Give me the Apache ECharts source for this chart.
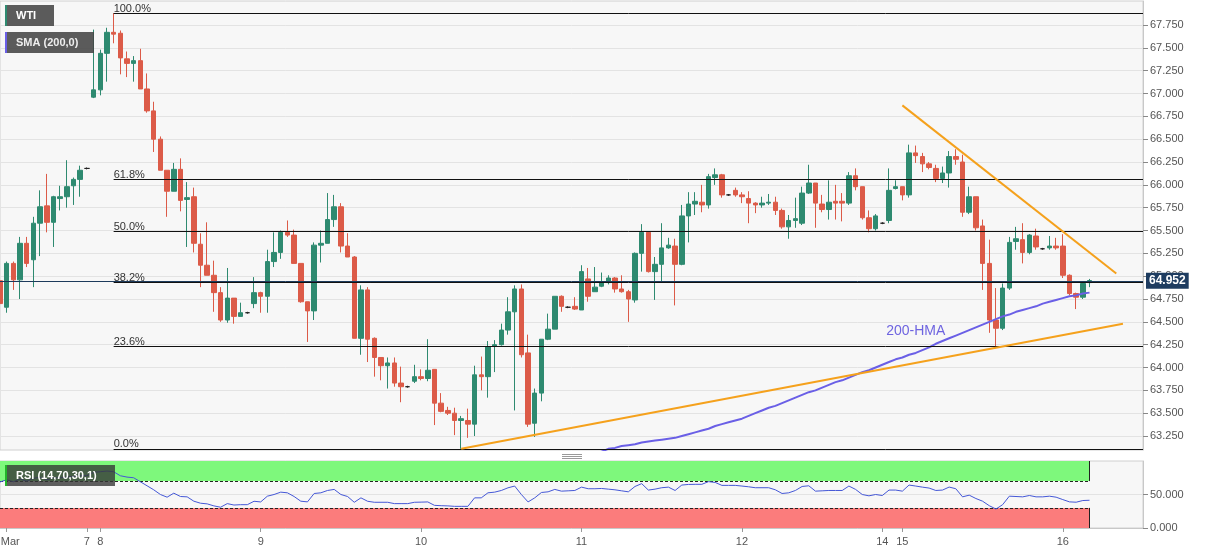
<!DOCTYPE html>
<html><head><meta charset="utf-8">
<script src="https://cdn.jsdelivr.net/npm/echarts@6/dist/echarts.min.js"></script>
<style>html,body{margin:0;padding:0;background:#fff}#c{width:1207px;height:555px}</style>
</head><body><div id="c"></div>
<script>
// ---- data (hourly WTI candles) ----
const opens = [64.95,64.66,65.14,64.96,65.36,65.18,65.58,65.77,65.59,65.85,65.87,65.99,66.06,66.18,66.96,67.04,67.44,67.67,67.66,67.38,
67.33,67.36,67.05,66.81,66.50,66.16,65.93,66.17,65.84,65.87,65.35,65.12,65.01,64.82,64.52,64.76,64.56,64.60,64.70,64.82,
64.78,65.16,65.26,65.48,65.45,65.14,64.72,64.62,65.34,65.36,65.62,65.76,65.33,65.21,64.32,64.85,64.32,64.11,64.02,64.05,
63.83,63.79,63.85,63.90,63.88,63.98,63.61,63.53,63.50,63.42,63.42,63.38,63.92,63.90,64.23,64.25,64.41,64.61,64.86,64.16,
63.39,63.72,64.31,64.42,64.78,64.66,64.67,64.63,64.97,64.83,64.89,64.93,64.98,64.86,64.83,64.74,65.25,65.48,65.05,65.13,
65.31,65.33,65.13,65.66,65.79,65.81,65.78,66.08,66.11,65.89,65.94,65.89,65.85,65.80,65.78,65.80,65.81,65.72,65.54,65.61,
65.58,65.91,66.02,65.79,65.73,65.82,65.82,65.80,66.10,65.98,65.64,65.52,65.58,65.61,65.96,65.98,65.89,66.35,66.31,66.23,
66.18,66.07,66.13,66.31,66.25,65.70,65.87,65.55,65.14,64.52,64.43,64.87,65.38,65.40,65.26,65.44,65.30,65.31,65.33,65.33,
65.01,64.81,64.77,64.93];
const closes = [64.70,65.14,64.96,65.36,65.14,65.58,65.76,65.59,65.87,65.87,65.98,66.06,66.16,66.18,67.04,67.44,67.67,67.65,67.39,67.33,
67.36,67.05,66.81,66.50,66.16,65.93,66.17,65.83,65.86,65.36,65.12,65.01,64.82,64.52,64.76,64.56,64.60,64.60,64.82,64.78,
65.16,65.26,65.48,65.45,65.14,64.72,64.62,65.34,65.36,65.62,65.76,65.33,65.21,64.32,64.85,64.31,64.11,64.02,64.05,63.83,
63.79,63.79,63.90,63.88,63.97,63.61,63.52,63.50,63.42,63.44,63.38,63.92,63.90,64.23,64.25,64.41,64.61,64.86,64.14,63.38,
63.72,64.31,64.42,64.78,64.67,64.66,64.64,65.05,64.78,64.88,64.93,64.98,64.86,64.83,64.75,65.25,65.48,65.05,65.13,65.31,
65.34,65.13,65.66,65.79,65.82,65.78,66.09,66.11,65.89,65.89,65.89,65.87,65.80,65.78,65.80,65.81,65.72,65.54,65.61,65.63,
65.91,66.02,65.80,65.73,65.81,65.80,65.80,66.10,65.98,65.64,65.52,65.66,65.58,65.94,65.98,65.89,66.35,66.32,66.23,66.19,
66.07,66.13,66.31,66.28,65.70,65.87,65.53,65.14,64.52,64.43,64.87,65.37,65.41,65.26,65.45,65.32,65.30,65.33,65.31,65.01,
64.81,64.77,64.92,64.952];
const highs = [65.02,65.16,65.16,65.43,65.43,65.65,65.94,66.12,65.88,65.99,66.27,66.08,66.21,66.19,67.70,67.48,67.72,67.88,67.69,67.46,
67.41,67.49,67.22,66.91,66.53,66.16,66.24,66.29,66.03,65.97,65.47,65.59,65.17,64.88,65.09,64.76,64.71,64.61,64.99,64.83,
65.29,65.48,65.50,65.61,65.51,65.14,64.72,65.37,65.50,65.91,65.89,65.80,65.47,65.22,64.90,64.88,64.33,64.11,64.11,64.11,
64.01,63.80,64.03,63.98,64.31,63.98,63.72,63.57,63.56,63.47,63.55,64.02,64.12,64.29,64.30,64.48,64.77,64.90,64.91,64.36,
63.77,64.31,64.59,64.78,64.79,64.67,64.77,65.12,65.09,65.10,65.04,65.01,64.99,65.01,64.85,65.26,65.57,65.49,65.21,65.58,
65.42,65.41,65.78,65.92,65.92,66.00,66.12,66.18,66.12,65.90,65.97,65.92,65.93,65.81,65.87,65.90,65.87,65.74,65.67,65.86,
65.98,66.22,66.02,65.89,66.05,66.00,65.91,66.14,66.18,65.98,65.72,65.68,65.59,66.18,66.05,65.98,66.44,66.43,66.35,66.25,
66.22,66.20,66.37,66.39,66.33,65.98,65.87,65.62,65.40,64.87,64.92,65.43,65.54,65.58,65.46,65.52,65.31,65.44,65.42,65.46,
65.02,64.82,64.94,64.97];
const lows = [64.55,64.60,64.85,64.75,65.10,64.88,65.22,65.48,65.32,65.72,65.75,65.78,65.87,66.17,66.95,66.98,67.13,67.55,67.21,67.18,
67.13,67.05,66.79,66.36,66.16,65.65,65.93,65.71,65.32,65.26,64.88,65.01,64.61,64.50,64.49,64.48,64.56,64.59,64.65,64.60,
64.60,65.10,65.19,65.43,65.14,64.71,64.28,64.52,65.15,65.36,65.54,65.26,65.21,64.32,64.14,64.06,63.90,63.86,63.77,63.79,
63.62,63.78,63.83,63.86,63.85,63.37,63.51,63.48,63.26,63.11,63.23,63.25,63.75,63.67,63.95,64.24,64.36,63.53,64.11,63.35,
63.24,63.63,64.30,64.42,64.61,64.65,64.63,64.63,64.72,64.83,64.88,64.91,64.82,64.82,64.50,64.71,65.05,65.04,64.74,64.93,
65.30,64.68,65.12,65.37,65.67,65.70,65.74,66.00,65.86,65.88,65.87,65.80,65.58,65.69,65.75,65.78,65.67,65.52,65.41,65.53,
65.56,65.90,65.53,65.70,65.62,65.62,65.60,65.78,65.94,65.62,65.48,65.50,65.57,65.58,65.95,65.83,65.86,66.24,66.14,66.17,
66.03,66.02,65.97,66.22,65.65,65.68,65.50,64.85,64.38,64.21,64.41,64.85,65.29,65.14,65.24,65.29,65.29,65.29,65.29,64.98,
64.79,64.64,64.75,64.88];
// 200-hour moving average (starts below the visible range)
const hmaStart = 88;
const hma = [62.98,63.04,63.08,63.11,63.12,63.14,63.15,63.16,63.18,63.19,63.20,63.21,63.22,63.23,63.25,63.27,63.29,63.31,63.33,63.36,
63.38,63.40,63.42,63.44,63.47,63.50,63.53,63.56,63.58,63.61,63.64,63.67,63.70,63.73,63.75,63.78,63.81,63.84,63.86,63.89,
63.92,63.95,63.97,64.00,64.03,64.06,64.09,64.11,64.14,64.16,64.19,64.22,64.26,64.29,64.32,64.35,64.38,64.41,64.44,64.47,
64.50,64.53,64.56,64.58,64.61,64.63,64.65,64.67,64.70,64.72,64.74,64.76,64.78,64.79,64.81,64.82];
// RSI (14)
const rsi = [68.7,72,69,73,70,74,76,72,75,75,76,77,78,78,83,84,85,84,78,76,
75,69,63,57,50,46,52,47,46.5,40,37,36,33,31,36.4,34.3,34.8,34.8,39.9,38.9,
47.5,50,53.5,52.5,47,40,39,51.5,52.5,56,57.6,50,47,38.4,45,39.9,38.4,38.4,38.4,36.4,
36.4,36.4,38.4,38.6,38.9,33.8,33.3,33,32.3,32.3,32.3,45,45,52.5,53.5,56,60,62.6,50,38.9,
45,53,54,57.6,55,55.5,56,61,58.6,58.6,59,58,57,55.5,54,62,66.2,56.6,58,60.1,
61,56,64.1,65,65.2,65.2,69.2,68,63.6,63.6,63.6,62.6,61.5,60.1,60.1,60.1,57,51.5,52.5,56,
62,63,55,55.5,56,56,56,62.6,57.6,50,48,50,48.5,56.6,56.6,55,64.1,62.6,61,59.6,
56,56.6,61.1,58.6,46.5,49,44,40,33.3,28.3,34.8,47.5,47,46.5,48.5,46.5,46.5,47.5,46,42.4,
39,38.5,41,41.4];
const dayTickIdx = [1,13,15,39,63,87,111,132,135,159];
const dayTickText = ['Mar','7','8','9','10','11','12','14','15','16'];
const priceTicks = [63.25,63.5,63.75,64,64.25,64.5,64.75,65,65.25,65.5,65.75,66,66.25,66.5,66.75,67,67.25,67.5,67.75];
const rsiTicks = [0,50];
const fibHigh = 67.88, fibLow = 63.11, fibStartIdx = 17;
const fibRatios = [1, 0.618, 0.5, 0.382, 0.236, 0];
const fibNames = ['100.0%','61.8%','50.0%','38.2%','23.6%','0.0%'];
const supportLine = [[69, 63.11],[168, 64.48]];
const resistLine = [[135, 66.87],[167, 65.03]];
const lastPrice = 64.952;
const padCount = 172; // number of hourly slots shown on the axis

// ---- build ----
const categories = Array.from({length: padCount}, (_, i) => String(i));
const candleData = opens.map((o, i) => [o, closes[i], lows[i], highs[i]]);
const hmaData = categories.map((_, i) => (i >= hmaStart && i - hmaStart < hma.length) ? hma[i - hmaStart] : '-');
const tickSet = new Set(dayTickIdx);
const labelOf = {}; dayTickIdx.forEach((k, j) => labelOf[k] = dayTickText[j]);
const lastIdx = opens.length - 1;
const FONT = '"Liberation Sans", Arial, sans-serif';

const fibLines = fibRatios.map((r, j) => {
  const p = +(fibLow + (fibHigh - fibLow) * r).toFixed(3);
  return [
    {coord: [fibStartIdx, p], lineStyle: {color: '#111', width: 1, type: 'solid'},
     label: {show: true, position: 'insideStartTop', formatter: fibNames[j], color: '#333', fontSize: 11, fontFamily: FONT, distance: [0, -1]}},
    {coord: [padCount - 1, p]}
  ];
});
const trend = (seg) => [
  {coord: seg[0], lineStyle: {color: '#f5a11c', width: 2, type: 'solid'}, label: {show: false}},
  {coord: seg[1]}
];

const chart = echarts.init(document.getElementById('c'));
chart.setOption({
  animation: false,
  backgroundColor: '#ffffff',
  textStyle: {fontFamily: FONT},
  grid: [
    {left: 0, right: 64, top: 1, height: 449, show: true, backgroundColor: '#f7f7f7', borderColor: '#d0d0d0', borderWidth: 1, outerBoundsMode: 'none', containLabel: false},
    {left: 0, right: 64, top: 461, height: 67, show: true, backgroundColor: '#f7f7f7', borderColor: '#d0d0d0', borderWidth: 1, outerBoundsMode: 'none', containLabel: false}
  ],
  xAxis: [
    {type: 'category', gridIndex: 0, data: categories, boundaryGap: false,
     axisLine: {show: false}, axisTick: {show: false}, axisLabel: {show: false}, splitLine: {show: false}},
    {type: 'category', gridIndex: 1, data: categories, boundaryGap: false,
     axisLine: {show: true, lineStyle: {color: '#c8c8c8'}},
     axisTick: {show: true, interval: (i) => tickSet.has(i), length: 4, lineStyle: {color: '#999'}},
     axisLabel: {interval: (i) => tickSet.has(i),
       formatter: (v, i) => labelOf[i] ? (i === dayTickIdx[0] ? '{first|' + labelOf[i] + '}' : labelOf[i]) : '',
       rich: {first: {padding: [0, 0, 0, 7], color: '#555', fontSize: 11}},
       color: '#555', fontSize: 11, margin: 8},
     splitLine: {show: false}}
  ],
  yAxis: [
    {type: 'value', gridIndex: 0, position: 'right', min: 63.097, max: 68.013, scale: true,
     axisLine: {show: true, lineStyle: {color: '#c8c8c8'}},
     axisTick: {show: true, customValues: priceTicks, length: 5, lineStyle: {color: '#888'}},
     axisLabel: {customValues: priceTicks, formatter: (v) => v.toFixed(3), color: '#555', fontSize: 11, margin: 7},
     splitLine: {show: true, lineStyle: {color: '#e3e3e3'}}},
    {type: 'value', gridIndex: 1, position: 'right', min: 0, max: 100,
     axisLine: {show: true, lineStyle: {color: '#c8c8c8'}},
     axisTick: {show: true, customValues: rsiTicks, length: 5, lineStyle: {color: '#888'}},
     axisLabel: {customValues: rsiTicks, formatter: (v) => v.toFixed(3), color: '#555', fontSize: 11, margin: 7},
     splitLine: {show: true, lineStyle: {color: '#e3e3e3'}}}
  ],
  series: [
    {type: 'candlestick', name: 'WTI', xAxisIndex: 0, yAxisIndex: 0, data: candleData, barWidth: 5,
     itemStyle: {color: '#2e8a70', color0: '#dc5b48', borderColor: '#2e8a70', borderColor0: '#dc5b48', borderColorDoji: '#222', borderWidth: 1},
     markLine: {symbol: ['none', 'none'], silent: true, animation: false,
       data: fibLines.concat([trend(supportLine), trend(resistLine),
         {yAxis: lastPrice, lineStyle: {color: '#1d3b5c', width: 1, type: 'solid'},
          label: {show: true, position: 'end', formatter: lastPrice.toFixed(3), color: '#fff', fontWeight: 'bold', fontSize: 12,
                  backgroundColor: '#1e3c60', padding: [2, 3], distance: 3}}])}},
    {type: 'line', name: 'SMA (200,0)', xAxisIndex: 0, yAxisIndex: 0, data: hmaData, symbol: 'none',
     lineStyle: {color: '#6a5fe6', width: 2}, itemStyle: {color: '#6a5fe6'},
     markPoint: {symbol: 'circle', symbolSize: 0, silent: true,
       data: [{coord: [137, 64.40], label: {show: true, position: 'inside', formatter: '200-HMA', color: '#6e64e0', fontSize: 14}}]}},
    {type: 'line', name: 'RSI', xAxisIndex: 1, yAxisIndex: 1, data: rsi, symbol: 'none',
     lineStyle: {color: '#4457d6', width: 1}, itemStyle: {color: '#4457d6'}, z: 5,
     markArea: {silent: true, data: [
       [{coord: [0, 70], itemStyle: {color: '#7ef87c'}}, {coord: [lastIdx, 100]}],
       [{coord: [0, 0], itemStyle: {color: '#fb7c7c'}}, {coord: [lastIdx, 30]}]
     ]},
     markLine: {symbol: ['none', 'none'], silent: true, label: {show: false},
       data: [
         [{coord: [0, 70], lineStyle: {color: '#222', type: [3, 2], width: 1}}, {coord: [lastIdx, 70]}],
         [{coord: [0, 30], lineStyle: {color: '#222', type: [3, 2], width: 1}}, {coord: [lastIdx, 30]}],
         [{coord: [lastIdx, 70], lineStyle: {color: '#222', type: 'solid', width: 1}}, {coord: [lastIdx, 100]}],
         [{coord: [lastIdx, 0], lineStyle: {color: '#222', type: 'solid', width: 1}}, {coord: [lastIdx, 30]}]
       ]}}
  ],
  graphic: [
    {type: 'rect', shape: {x: 5, y: 5, width: 49, height: 21}, style: {fill: 'rgba(70,70,70,0.88)'}, z: 100},
    {type: 'rect', shape: {x: 5, y: 5, width: 2, height: 21}, style: {fill: '#2e8a70'}, z: 101},
    {type: 'text', x: 16, y: 10, style: {text: 'WTI', fill: '#fff', font: 'bold 11px ' + FONT}, z: 101},
    {type: 'rect', shape: {x: 5, y: 32, width: 89, height: 21}, style: {fill: 'rgba(70,70,70,0.88)'}, z: 100},
    {type: 'rect', shape: {x: 5, y: 32, width: 2, height: 21}, style: {fill: '#6a5fe6'}, z: 101},
    {type: 'text', x: 16, y: 37, style: {text: 'SMA (200,0)', fill: '#eee', font: 'bold 11px ' + FONT}, z: 101},
    {type: 'rect', shape: {x: 5, y: 465, width: 110, height: 21}, style: {fill: 'rgba(55,55,55,0.8)'}, z: 100},
    {type: 'rect', shape: {x: 5, y: 465, width: 2, height: 21}, style: {fill: '#22b52a'}, z: 101},
    {type: 'text', x: 16, y: 470, style: {text: 'RSI (14,70,30,1)', fill: '#fff', font: 'bold 11px ' + FONT}, z: 101},
    {type: 'line', shape: {x1: 562, y1: 454.5, x2: 582, y2: 454.5}, style: {stroke: '#999', lineWidth: 1}, z: 100},
    {type: 'line', shape: {x1: 562, y1: 456.5, x2: 582, y2: 456.5}, style: {stroke: '#999', lineWidth: 1}, z: 100},
    {type: 'line', shape: {x1: 562, y1: 458.5, x2: 582, y2: 458.5}, style: {stroke: '#999', lineWidth: 1}, z: 100}
  ]
});
</script>
</body></html>
